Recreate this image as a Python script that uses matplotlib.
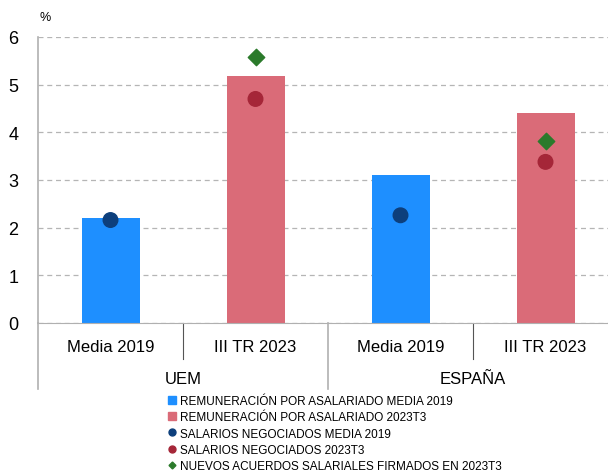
import numpy as np
import matplotlib.pyplot as plt
from matplotlib.lines import Line2D
from matplotlib.patches import Patch

plt.rcParams['font.family'] = ['Liberation Sans', 'DejaVu Sans']

# datos
periodos = ['Media 2019', 'III TR 2023', 'Media 2019', 'III TR 2023']
zonas = ['UEM', 'ESPAÑA']
remuneracion = [2.20, 5.18, 3.10, 4.40]
salarios_neg = [2.16, 4.70, 2.26, 3.38]
nuevos_acuerdos = [None, 5.58, None, 3.82]

col_bar = ['#1E8FFF', '#DA6B78', '#1E8FFF', '#DA6B78']
col_dot = ['#0D3F7C', '#A52638', '#0D3F7C', '#A52638']
col_dia = '#2B7A2B'

fig = plt.figure(figsize=(6.08, 4.77), dpi=100)
ax = fig.add_axes([38/608, 153/477, 580/608, 286/477])

x = np.arange(len(periodos))
ax.bar(x, remuneracion, width=0.4, color=col_bar, zorder=2)
ax.scatter(x, salarios_neg, s=110, color=col_dot, zorder=3)
xd = [i for i, v in enumerate(nuevos_acuerdos) if v is not None]
yd = [v for v in nuevos_acuerdos if v is not None]
ax.scatter(xd, yd, s=70, marker='D', color=col_dia, zorder=3)

ax.set_xlim(-0.5, 3.5)
ax.set_ylim(0, 6)
ax.set_yticks(range(7))
ax.tick_params(axis='y', length=0, labelsize=13, pad=14)
ax.set_xticks([])
for s in ['top', 'right']:
    ax.spines[s].set_visible(False)
ax.spines['left'].set_color('#b0b0b0')
ax.spines['bottom'].set_color('#b0b0b0')
ax.spines['left'].set_linewidth(1.2)
ax.yaxis.grid(True, linestyle=(0, (4, 3)), color='#b5b5b5', linewidth=0.9, zorder=0)
ax.set_axisbelow(True)

ax.text(45/608, 1 - 18/477, '%', transform=fig.transFigure, fontsize=9, ha='center', va='center')

# etiquetas de categorias
trans = ax.get_xaxis_transform()
for i, p in enumerate(periodos):
    ax.text(i, -23/286, p, transform=trans, ha='center', va='center', fontsize=12, clip_on=False)
for j, z in enumerate(zonas):
    ax.text(2*j + 0.5, -56/286, z, transform=trans, ha='center', va='center', fontsize=12, clip_on=False)
for xs in [0.5, 2.5]:
    ax.plot([xs, xs], [0, -36/286], transform=trans, color='#555555', lw=0.8, clip_on=False)
for xs in [-0.5, 1.5]:
    ax.plot([xs, xs], [0, -66/286], transform=trans, color='#b0b0b0', lw=1.2, clip_on=False)

handles = [
    Patch(color='#1E8FFF', label='REMUNERACIÓN POR ASALARIADO MEDIA 2019'),
    Patch(color='#DA6B78', label='REMUNERACIÓN POR ASALARIADO 2023T3'),
    Line2D([], [], marker='o', color='#0D3F7C', ls='none', markersize=5, label='SALARIOS NEGOCIADOS MEDIA 2019'),
    Line2D([], [], marker='o', color='#A52638', ls='none', markersize=5, label='SALARIOS NEGOCIADOS 2023T3'),
    Line2D([], [], marker='D', color=col_dia, ls='none', markersize=3.5, label='NUEVOS ACUERDOS SALARIALES FIRMADOS EN 2023T3'),
]
fig.legend(handles=handles, loc='upper left', bbox_to_anchor=(168/608, 1 - 396/477),
           frameon=False, fontsize=8.5, handlelength=0.7, handleheight=0.7,
           handletextpad=0.35, labelspacing=0.36, borderpad=0, borderaxespad=0)

fig.savefig('out.png', dpi=100)
